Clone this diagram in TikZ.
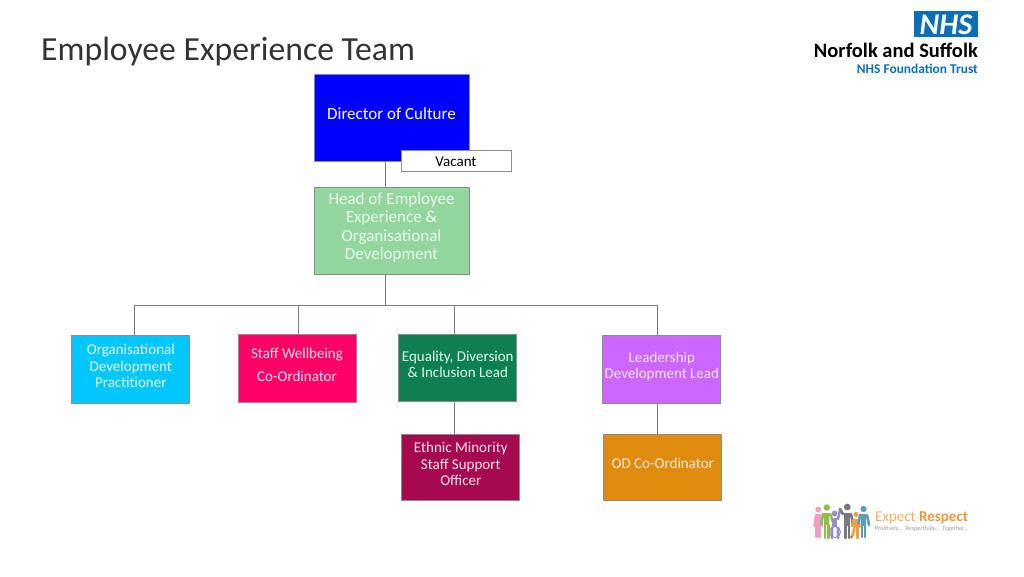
\documentclass[tikz,border=0pt]{standalone}
\usepackage{fontspec}
\setmainfont{Carlito}
\newcommand{\fs}[1]{\fontsize{#1}{#1}\selectfont}
\newcommand{\lines}[4]{\raisebox{#1pt}[0pt][0pt]{\fontsize{#2}{#3}\selectfont\setlength{\tabcolsep}{0pt}\begin{tabular}[c]{c}#4\end{tabular}}}
\definecolor{edge}{HTML}{8C8C8C}
\definecolor{nhs}{HTML}{0B6FB8}
\tikzset{
  x=1pt,y=-1pt,
  orgbox/.style={draw=edge,line width=0.8pt,inner sep=0pt,minimum width=118pt,minimum height=68pt,text=white},
  link/.style={draw=edge!90!black,line width=1pt},
  limb/.style={line width=2.6pt,line cap=round},
  logotext/.style={inner sep=0pt,font=\bfseries},
}
\begin{document}
\begin{tikzpicture}
\useasboundingbox (0,0) rectangle (1024,576);
\fill[white] (0,0) rectangle (1024,576);

\node[anchor=base west,inner sep=0pt,font=\fs{33.7},text=black!80] (title) at (41,60) {Employee Experience Team};

% connector guides
\coordinate (spine) at (385.5,305);
\coordinate (busL) at (134,305);
\coordinate (busS) at (298,305);
\coordinate (busE) at (454,305);
\coordinate (busR) at (657.5,305);

% boxes
\node[orgbox,fill=blue,minimum width=155pt,minimum height=87pt] (dir) at (391.5,117.5) {\lines{-2}{17}{20}{Director of Culture}};
\node[orgbox,fill=white,text=black,minimum width=110pt,minimum height=21pt] (vac) at (456,161) {\lines{-5.5}{15}{18}{Vacant}};
\node[orgbox,fill={rgb,255:red,147;green,214;blue,160},text={rgb,255:red,235;green,248;blue,235},minimum width=155pt,minimum height=87pt] (head) at (391.5,230.5) {\lines{-2}{17}{18.4}{Head of Employee\\Experience \&\\Organisational\\Development}};

\node[orgbox,fill={rgb,255:red,0;green,200;blue,255},text={rgb,255:red,225;green,248;blue,255}] (org) at (130.8,369.8) {\lines{-1.7}{15}{16.2}{Organisational\\Development\\Practitioner}};
\node[orgbox,fill={rgb,255:red,255;green,0;blue,102},text={rgb,255:red,255;green,225;blue,235}] (well) at (297,368.7) {\lines{-0.6}{15}{22.5}{Staff Wellbeing\\Co-Ordinator}};
\node[orgbox,fill={rgb,255:red,14;green,128;blue,80},minimum height=67pt,text={rgb,255:red,225;green,248;blue,235}] (edi) at (457.8,368.2) {\lines{-1.7}{15}{16.2}{Equality, Diversion\\\& Inclusion Lead}};
\node[orgbox,fill={rgb,255:red,204;green,102;blue,255},text={rgb,255:red,245;green,230;blue,255}] (lead) at (661.8,369.8) {\lines{-1.2}{15}{16.2}{Leadership\\Development Lead}};
\node[orgbox,fill={rgb,255:red,165;green,10;blue,80},minimum height=66pt,text={rgb,255:red,255;green,225;blue,240}] (eth) at (460.8,467.8) {\lines{-1.7}{15}{16.2}{Ethnic Minority\\Staff Support\\Officer}};
\node[orgbox,fill={rgb,255:red,224;green,138;blue,14},minimum height=66pt,text={rgb,255:red,255;green,240;blue,220}] (od) at (662.8,467.8) {\lines{-1.2}{15}{16.2}{OD Co-Ordinator}};

% connectors
\draw[link] (dir.south -| spine) -- (head.north -| spine);
\draw[link] (head.south -| spine) -- (spine);
\draw[link] (org.north -| busL) -- (busL) -- (busR) -- (lead.north -| busR);
\draw[link] (busS) -- (well.north -| busS);
\draw[link] (busE) -- (edi.north -| busE);
\draw[link] (edi.south -| busE) -- (eth.north -| busE);
\draw[link] (lead.south -| busR) -- (od.north -| busR);

% NHS logo
\fill[nhs] (914,11) rectangle (978,37);
\node[logotext,text=white,font=\fs{30}\bfseries\itshape] (nhslogo) at (946,24.5) {NHS};
\node[logotext,anchor=base east,text=black,font=\fs{20.5}\bfseries] (trust) at (978,57) {Norfolk and Suffolk};
\node[logotext,anchor=base east,text=nhs,font=\fs{13.4}\bfseries] (found) at (978,73) {NHS Foundation Trust};

% Expect Respect logo: figures
\definecolor{pk}{HTML}{EBA0C4}\definecolor{gn}{HTML}{8DBF4A}\definecolor{pu}{HTML}{9C8CC8}
\definecolor{gy}{HTML}{77787B}\definecolor{og}{HTML}{F0A040}\definecolor{bl}{HTML}{5C9DB5}
% pink
\fill[pk] (818.3,509.5) circle (3pt);
\draw[pk,limb] (816,515)--(814.5,526) (820,515)--(822,526);
\draw[pk,line width=5pt] (818,514)--(818,525);
\draw[pk,limb] (816.5,525)--(816.5,537) (819.5,525)--(819.5,537);
% green
\fill[gn] (826.8,507.5) circle (3.2pt);
\draw[gn,limb] (823,514)--(821.5,524) (830,514)--(833,522);
\draw[gn,line width=5.5pt] (826.5,513)--(826.5,525);
\draw[gn,limb] (825,525)--(825,538) (828.5,525)--(828.5,538);
% purple wheelchair
\fill[pu] (834.5,513.5) circle (3pt);
\draw[pu,line width=5pt] (834.5,518)--(834.5,527);
\draw[pu,limb] (838,519)--(840,510) (832,528)--(832,538) (838,528)--(838,538);
\draw[pu,line width=1pt] (835,532) circle (5.5pt);
% grey
\fill[gy] (847.3,507) circle (3.4pt);
\draw[gy,limb] (843,514)--(840,509) (851,514)--(853,524);
\draw[gy,line width=6pt] (847,512.5)--(847,526);
\draw[gy,limb] (845.5,526)--(845.5,538) (849,526)--(849,538);
% orange
\fill[og] (856,514.5) circle (2.6pt);
\draw[og,line width=4.5pt] (856,519)--(856,527);
\draw[og,limb] (853.5,520)--(852,526) (858.5,520)--(859.5,527) (854.5,527)--(852.5,536) (857.5,527)--(857.5,538);
\fill[og!80!black] (851.5,537) circle (1.6pt);
% blue
\fill[bl] (863.5,509) circle (3.1pt);
\draw[bl,limb] (860,515)--(858.5,524) (867,515)--(869,525);
\draw[bl,line width=5.5pt] (863.5,514)--(863.5,526);
\draw[bl,limb] (862,526)--(862,537) (865,526)--(865,537);
% Expect Respect text
\node[anchor=base west,inner sep=0pt,font=\fs{15},text={rgb,255:red,242;green,176;blue,100}] (expect) at (875,521) {Expect \textbf{\textcolor[RGB]{236,150,60}{Respect}}};
\node[anchor=base west,inner sep=0pt,font=\fs{6.1},text=black!40] (motto) at (875,530) {Positively...\ \ Respectfully...\ \ Together...};
\end{tikzpicture}
\end{document}
